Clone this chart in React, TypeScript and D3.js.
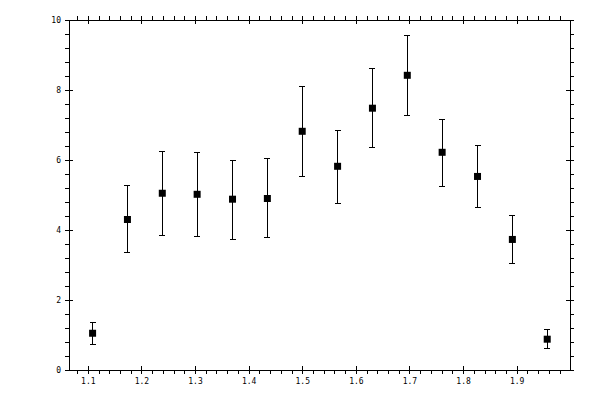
import React from "react";
import * as d3 from "d3";

const xValues = [1.108, 1.173, 1.238, 1.303, 1.369, 1.434, 1.499, 1.565, 1.630, 1.695, 1.760, 1.826, 1.891, 1.956];
const yValues = [1.05, 4.30, 5.05, 5.02, 4.88, 4.90, 6.82, 5.82, 7.48, 8.42, 6.22, 5.53, 3.73, 0.88];
const yUpper = [1.36, 5.28, 6.25, 6.22, 5.99, 6.05, 8.11, 6.85, 8.62, 9.56, 7.16, 6.42, 4.42, 1.16];
const yLower = [0.74, 3.36, 3.85, 3.82, 3.73, 3.79, 5.54, 4.77, 6.36, 7.28, 5.25, 4.65, 3.05, 0.62];
const xMajorTicks = [1.1, 1.2, 1.3, 1.4, 1.5, 1.6, 1.7, 1.8, 1.9];
const yMajorTicks = [0, 2, 4, 6, 8, 10];

const W = 600, H = 400;
const left = 69, right = 570, top = 20, bottom = 370;

export default function App() {
  const x = d3.scaleLinear().domain([1.064, 1.9985]).range([left, right]);
  const y = d3.scaleLinear().domain([0, 10]).range([bottom, top]);
  const xMinor = d3.range(1.08, 2.0, 0.02).filter((v) => x(v) > left + 1 && x(v) < right - 1);
  const yMinor = d3.range(0, 10.01, 0.4);
  const font = "'DejaVu Sans Mono', monospace";
  const sw = 1;
  return (
    <svg width={W} height={H} style={{ position: "absolute", left: 0, top: 0, background: "#fff" }}>
      <g stroke="#000" strokeWidth={sw} shapeRendering="crispEdges">
        <rect x={left} y={top} width={right - left} height={bottom - top} fill="none" />
        {xMinor.map((v, i) => (
          <g key={"xm" + i}>
            <line x1={x(v)} x2={x(v)} y1={bottom} y2={bottom + 4} />
            <line x1={x(v)} x2={x(v)} y1={top} y2={top - 4} />
          </g>
        ))}
        {xMajorTicks.map((v, i) => (
          <g key={"xM" + i}>
            <line x1={x(v)} x2={x(v)} y1={bottom - 4} y2={bottom + 4} />
            <line x1={x(v)} x2={x(v)} y1={top - 4} y2={top + 4} />
          </g>
        ))}
        {yMinor.map((v, i) => (
          <g key={"ym" + i}>
            <line x1={left - 4} x2={left} y1={y(v)} y2={y(v)} />
            <line x1={right} x2={right + 4} y1={y(v)} y2={y(v)} />
          </g>
        ))}
        {yMajorTicks.map((v, i) => (
          <g key={"yM" + i}>
            <line x1={left - 4} x2={left + 4} y1={y(v)} y2={y(v)} />
            <line x1={right - 4} x2={right + 4} y1={y(v)} y2={y(v)} />
          </g>
        ))}
      </g>
      <g fontFamily={font} fontSize={8} fill="#000">
        {xMajorTicks.map((v, i) => (
          <text key={"xl" + i} x={x(v)} y={bottom + 14} textAnchor="middle">{v.toFixed(1)}</text>
        ))}
        {yMajorTicks.map((v, i) => (
          <text key={"yl" + i} x={left - 8} y={y(v) + 3} textAnchor="end">{String(v)}</text>
        ))}
      </g>
      <g stroke="#000" strokeWidth={1} shapeRendering="crispEdges">
        {xValues.map((xv, i) => (
          <g key={"e" + i}>
            <line x1={x(xv)} x2={x(xv)} y1={y(yUpper[i])} y2={y(yLower[i])} />
            <line x1={x(xv) - 3} x2={x(xv) + 3} y1={y(yUpper[i])} y2={y(yUpper[i])} />
            <line x1={x(xv) - 3} x2={x(xv) + 3} y1={y(yLower[i])} y2={y(yLower[i])} />
          </g>
        ))}
      </g>
      <g fill="#000">
        {xValues.map((xv, i) => (
          <rect key={"p" + i} x={x(xv) - 3.5} y={y(yValues[i]) - 3.5} width={7} height={7} />
        ))}
      </g>
    </svg>
  );
}
